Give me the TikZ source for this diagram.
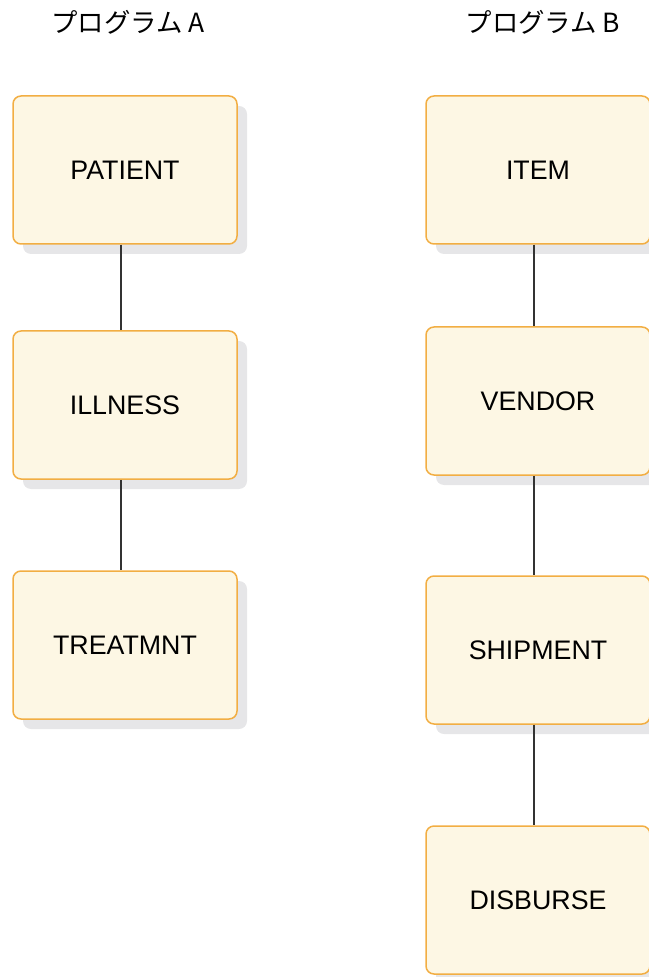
\documentclass[tikz,border=0pt]{standalone}
\usepackage{fontspec}
\setmainfont{Liberation Sans}
\newfontfamily\jpfont{Noto Sans CJK JP}
\usetikzlibrary{shadows}
\definecolor{segfill}{HTML}{FDF7E4}
\definecolor{segedge}{HTML}{F2AE43}
\definecolor{segshadow}{HTML}{E6E6E8}
\definecolor{seglink}{HTML}{333333}

\begin{document}
\begin{tikzpicture}[x=0.5pt, y=-0.5pt,
  seg/.style={draw=segedge, fill=segfill, line width=0.75pt, rounded corners=4pt,
    minimum width=112pt, minimum height=74pt, inner sep=0pt,
    font=\fontsize{13.4}{16}\selectfont,
    drop shadow={shadow xshift=5pt, shadow yshift=-5pt, fill=segshadow, opacity=1}},
  title/.style={font=\jpfont\fontsize{13.2}{16}\selectfont},
  link/.style={draw=seglink, line width=0.6pt}]
  \useasboundingbox (0,0) rectangle (648,977);

  \node[title] (progA) at (128,22) {プログラム A};
  \node[title] (progB) at (543,22) {プログラム B};

  \node[seg] (patient)  at (125,170) {PATIENT};
  \node[seg] (illness)  at (125,405) {ILLNESS};
  \node[seg] (treatmnt) at (125,645) {TREATMNT};

  \node[seg] (item)     at (538,170) {ITEM};
  \node[seg] (vendor)   at (538,401) {VENDOR};
  \node[seg] (shipment) at (538,650) {SHIPMENT};
  \node[seg] (disburse) at (538,900) {DISBURSE};

  \path[link] ([xshift=-2pt]patient.south) -- ([xshift=-2pt]illness.north);
  \path[link] ([xshift=-2pt]illness.south) -- ([xshift=-2pt]treatmnt.north);

  \path[link] ([xshift=-2pt]item.south) -- ([xshift=-2pt]vendor.north);
  \path[link] ([xshift=-2pt]vendor.south) -- ([xshift=-2pt]shipment.north);
  \path[link] ([xshift=-2pt]shipment.south) -- ([xshift=-2pt]disburse.north);
\end{tikzpicture}
\end{document}
